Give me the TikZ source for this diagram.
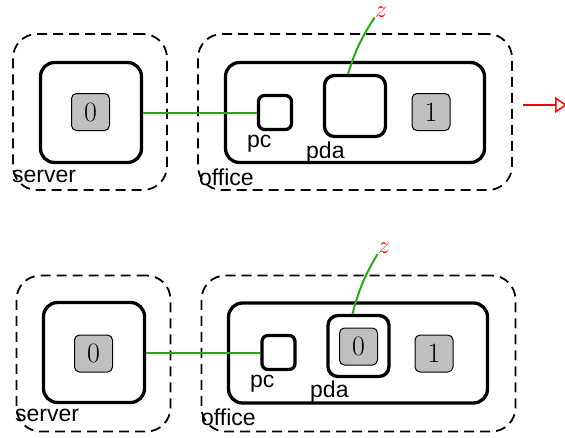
\documentclass[tikz,border=0pt]{standalone}
\usepackage{fontspec}
\setsansfont{Liberation Sans}
\usetikzlibrary{arrows.meta,positioning}
\definecolor{linkgreen}{RGB}{40,170,20}

\begin{document}
\begin{tikzpicture}[x=1pt, y=-1pt,
        region/.style={draw, dash pattern=on 10pt off 6pt, line width=1.8pt, rounded corners=24pt, inner sep=0pt},
        place/.style={draw, line width=3.3pt, rounded corners=14pt, inner sep=0pt},
        token/.style={draw, fill=gray!50, line width=1pt, rounded corners=5pt, minimum width=38pt, minimum height=37pt, inner sep=0pt, font=\fontsize{28}{28}\selectfont},
        lbl/.style={anchor=base west, inner sep=0pt, font=\sffamily\fontsize{23}{23}\selectfont},
        link/.style={draw=linkgreen, line width=2pt},
        outname/.style={text=red, inner sep=0pt, font=\fontsize{30}{30}\selectfont}]
        \useasboundingbox (0,0) rectangle (565,437);

        % upper state
        \node[region, minimum width=154pt, minimum height=156pt] (srvA) at (90,112) {};
        \node[region, minimum width=314pt, minimum height=156pt] (offA) at (355,112) {};
        \node[place, minimum width=101pt, minimum height=100pt] (hostA) at (91,112.5) {};
        \node[place, minimum width=259pt, minimum height=100pt] (roomA) at (355,112.5) {};
        \node[place, rounded corners=6pt, minimum width=33pt, minimum height=34pt] (pcA) at (275,112.5) {};
        \node[place, rounded corners=10pt, minimum size=61pt] (pdaA) at (355,106) {};
        \node[token] (tokA) at (90.5,112) {0};
        \node[token] (tokoneA) at (431,112) {1};
        \node[outname] (zA) at (381,12) {$z$};

        \node[lbl] (srvlblA) at (12,182) {server};
        \node[lbl] (offlblA) at (199,185) {office};
        \node[lbl] (pclblA) at (247,147) {pc};
        \node[lbl] (pdalblA) at (306,158) {pda};

        \draw[link] (hostA) -- (pcA);
        \draw[link] ([xshift=-7pt]pdaA.north) to[bend left=8] (zA.south west);

        \coordinate (outA) at (523,105);
        \coordinate (outB) at (567,105);
        \draw[red, line width=1.5pt, -{Triangle[open, length=12pt, width=16pt]}] (outA) -- (outB);

        % lower state
        \node[region, minimum width=154pt, minimum height=156pt] (srvB) at (93.5,353.5) {};
        \node[region, minimum width=314pt, minimum height=156pt] (offB) at (358.5,353.5) {};
        \node[place, minimum width=101pt, minimum height=100pt] (hostB) at (94,352.5) {};
        \node[place, minimum width=259pt, minimum height=100pt] (roomB) at (358,353) {};
        \node[place, rounded corners=6pt, minimum width=33pt, minimum height=34pt] (pcB) at (278.5,352.5) {};
        \node[place, rounded corners=10pt, minimum size=61pt] (pdaB) at (358.5,346) {};
        \node[token] (tokB) at (93.5,353.5) {0};
        \node[token] (tokpdaB) at (358.5,346.5) {0};
        \node[token] (tokoneB) at (434,353.5) {1};
        \node[outname] (zB) at (384,248.5) {$z$};

        \node[lbl] (srvlblB) at (15,421) {server};
        \node[lbl] (offlblB) at (201,425) {office};
        \node[lbl] (pclblB) at (250,387) {pc};
        \node[lbl] (pdalblB) at (310,397) {pda};

        \draw[link] (hostB) -- (pcB);
        \draw[link] ([xshift=-6pt]pdaB.north) to[bend left=8] (zB.south west);
\end{tikzpicture}
\end{document}
